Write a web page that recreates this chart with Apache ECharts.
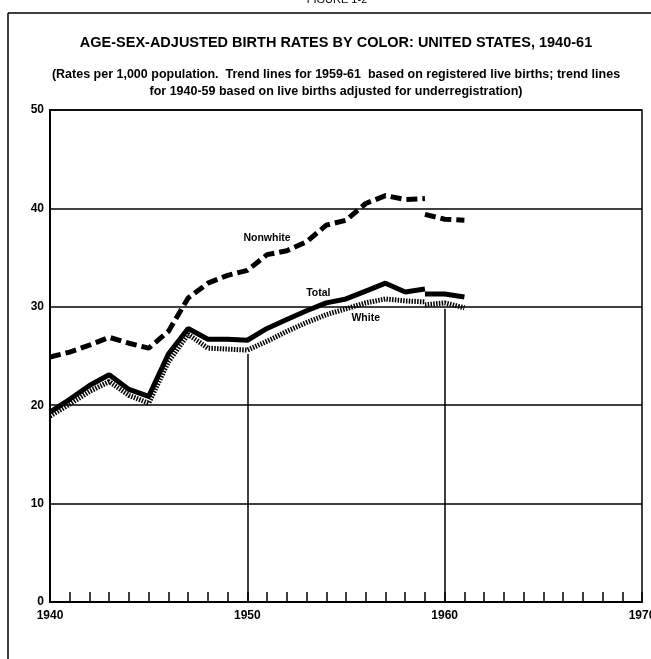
<!DOCTYPE html>
<html>
<head>
<meta charset="utf-8">
<script src="https://cdn.jsdelivr.net/npm/echarts@6/dist/echarts.min.js"></script>
<style>
  html, body { margin: 0; padding: 0; background: #fff; }
  #chart { width: 651px; height: 659px; }
</style>
</head>
<body>
<div id="chart"></div>
<script>
// adjusted for underregistration, 1940-59
const years1 = [1940, 1941, 1942, 1943, 1944, 1945, 1946, 1947, 1948, 1949,
                1950, 1951, 1952, 1953, 1954, 1955, 1956, 1957, 1958, 1959];
const total1 = [19.3, 20.6, 22.0, 23.1, 21.6, 20.9, 25.2, 27.8, 26.7, 26.7,
                26.6, 27.8, 28.7, 29.6, 30.4, 30.8, 31.6, 32.4, 31.5, 31.8];
const white1 = [18.9, 20.1, 21.4, 22.4, 21.0, 20.2, 24.4, 27.2, 25.8, 25.7,
                25.6, 26.5, 27.5, 28.4, 29.2, 29.8, 30.4, 30.8, 30.6, 30.5];
const nonwhite1 = [24.9, 25.4, 26.1, 26.9, 26.3, 25.8, 27.5, 30.9, 32.4, 33.2,
                   33.7, 35.3, 35.7, 36.6, 38.3, 38.8, 40.5, 41.3, 40.9, 41.0];

// registered live births, 1959-61
const years2 = [1959, 1960, 1961];
const total2 = [31.3, 31.3, 31.0];
const white2 = [30.2, 30.4, 29.9];
const nonwhite2 = [39.4, 38.9, 38.8];

// vertical reference lines
const refYears = [1950, 1960];
const refTops = [25.2, 29.8];

// series labels [year, value]
const labelNonwhite = [1951.0, 37.0];
const labelTotal = [1953.6, 31.4];
const labelWhite = [1956.0, 28.9];

const yTicks = [0, 10, 20, 30, 40, 50];

const FONT = 'Liberation Sans';

function pairs(xs, ys) { return xs.map((x, i) => [x, ys[i]]); }

function tag(pos, text) {
  return {
    symbol: 'circle', symbolSize: 0, silent: true,
    data: [{ coord: pos, value: text }],
    label: { show: true, position: 'inside', formatter: text,
             color: '#000', fontFamily: FONT, fontWeight: 'bold', fontSize: 10.5 }
  };
}

const solid = { color: '#000', width: 5, type: 'solid' };
const dashed = { color: '#000', width: 5, type: [11, 5], cap: 'butt' };
const hatched = { color: '#000', width: 5, type: [1.5, 1.3], cap: 'butt' };

const chart = echarts.init(document.getElementById('chart'));
chart.setOption({
  backgroundColor: '#fff',
  animation: false,
  grid: { left: 50, right: 9, top: 110, bottom: 57, show: true,
          outerBoundsMode: 'none', containLabel: false,
          borderColor: '#000', borderWidth: 1.5 },
  graphic: [
    { type: 'line', shape: { x1: 8, y1: 13, x2: 651, y2: 13 }, style: { stroke: '#000', lineWidth: 1.5 } },
    { type: 'line', shape: { x1: 8, y1: 13, x2: 8, y2: 659 }, style: { stroke: '#000', lineWidth: 1.5 } },
    { type: 'text', x: 337, y: 0,
      style: { text: 'FIGURE 1-2', fontFamily: FONT, fontSize: 11, fill: '#000',
               align: 'center', verticalAlign: 'middle' } },
    { type: 'text', x: 336, y: 43,
      style: { text: 'AGE-SEX-ADJUSTED BIRTH RATES BY COLOR: UNITED STATES, 1940-61',
               fontFamily: FONT, fontWeight: 'bold', fontSize: 14.5, fill: '#000',
               align: 'center', verticalAlign: 'middle' } },
    { type: 'text', x: 336, y: 75,
      style: { text: '(Rates per 1,000 population.  Trend lines for 1959-61  based on registered live births; trend lines',
               fontFamily: FONT, fontWeight: 'bold', fontSize: 12.5, fill: '#000',
               align: 'center', verticalAlign: 'middle' } },
    { type: 'text', x: 336, y: 92,
      style: { text: 'for 1940-59 based on live births adjusted for underregistration)',
               fontFamily: FONT, fontWeight: 'bold', fontSize: 12.5, fill: '#000',
               align: 'center', verticalAlign: 'middle' } }
  ],
  xAxis: {
    type: 'value', min: 1940, max: 1970, interval: 1,
    axisLine: { lineStyle: { color: '#000', width: 2 } },
    axisTick: { inside: true, length: 10, lineStyle: { color: '#000', width: 1.5 } },
    axisLabel: { color: '#000', fontFamily: FONT, fontWeight: 'bold', fontSize: 12,
                 margin: 8, hideOverlap: false,
                 formatter: v => (v % 10 === 0 ? String(v) : '') },
    splitLine: { show: false }
  },
  yAxis: {
    type: 'value', min: yTicks[0], max: yTicks[yTicks.length - 1], interval: 10,
    axisLine: { show: true, lineStyle: { color: '#000', width: 2 } },
    axisTick: { show: false },
    axisLabel: { color: '#000', fontFamily: FONT, fontWeight: 'bold', fontSize: 12, margin: 6 },
    splitLine: { show: true, lineStyle: { color: '#000', width: 1.5 } }
  },
  series: [
    { name: 'Nonwhite', type: 'line', data: pairs(years1, nonwhite1), showSymbol: false,
      lineStyle: dashed, markPoint: tag(labelNonwhite, 'Nonwhite') },
    { name: 'Nonwhite registered', type: 'line', data: pairs(years2, nonwhite2), showSymbol: false,
      lineStyle: dashed },
    { name: 'White', type: 'line', data: pairs(years1, white1), showSymbol: false,
      lineStyle: hatched, markPoint: tag(labelWhite, 'White'),
      markLine: {
        symbol: 'none', silent: true, label: { show: false },
        lineStyle: { color: '#000', width: 1.5, type: 'solid' },
        data: refYears.map((yr, i) => [{ coord: [yr, 0] }, { coord: [yr, refTops[i]] }])
      } },
    { name: 'White registered', type: 'line', data: pairs(years2, white2), showSymbol: false,
      lineStyle: hatched },
    { name: 'Total', type: 'line', data: pairs(years1, total1), showSymbol: false,
      lineStyle: solid, markPoint: tag(labelTotal, 'Total') },
    { name: 'Total registered', type: 'line', data: pairs(years2, total2), showSymbol: false,
      lineStyle: solid }
  ]
});
</script>
</body>
</html>
